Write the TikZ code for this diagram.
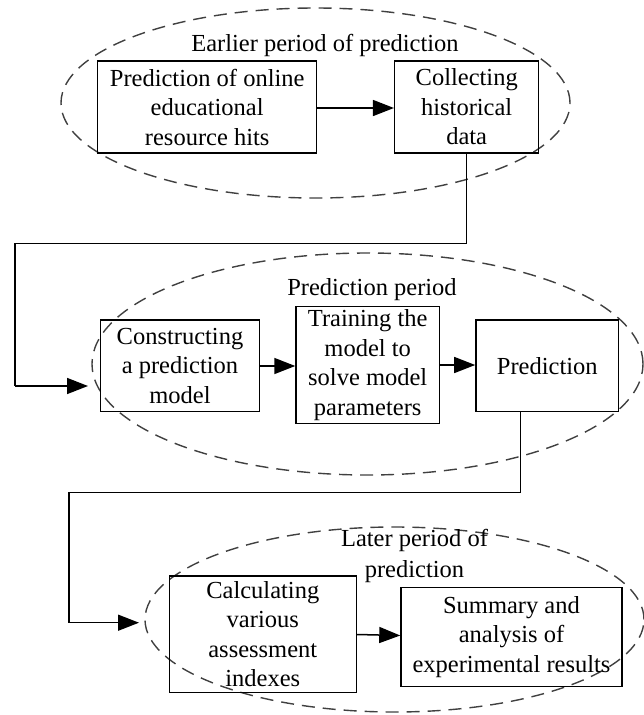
\documentclass[tikz,border=0pt]{standalone}
\usepackage{fontspec}
\setmainfont{Liberation Serif}
\usetikzlibrary{arrows.meta,shapes.geometric}
\begin{document}
\begin{tikzpicture}[x=1pt,y=-1pt,
  txt/.style={font=\fontsize{24.5}{29.5}\selectfont},
  box/.style={txt,draw,line width=1.5pt,rectangle,align=center,inner sep=0pt},
  zone/.style={ellipse,draw=black!75,line width=1.4pt,dash pattern=on 13pt off 8pt,inner sep=0pt},
  lbl/.style={txt,align=center,inner sep=0pt},
  conn/.style={line width=1.5pt,-{Triangle[length=21pt,width=16pt]}},
  wire/.style={line width=1.5pt}]
\useasboundingbox (0,0) rectangle (644,715);
% zones
\node[zone,minimum width=509pt,minimum height=190pt] (z1) at (315.5,103) {};
\node[zone,minimum width=551pt,minimum height=222pt] (z2) at (367.5,364) {};
\node[zone,minimum width=499pt,minimum height=185pt] (z3) at (394.5,619.5) {};
\node[lbl] (t1) at (325,45) {Earlier period of prediction};
\node[lbl] (t2) at (372,290) {Prediction period};
\node[lbl,font=\fontsize{24.5}{31.5}\selectfont] (t3) at (414.5,556) {Later period of\\prediction};
% boxes
\node[box,minimum width=219pt,minimum height=92pt] (b1) at (207.2,107) {Prediction of online\\educational\\resource hits};
\node[box,minimum width=144pt,minimum height=92pt] (b2) at (466.7,107) {Collecting\\historical\\data};
\node[box,minimum width=158.6pt,minimum height=91.7pt] (b3) at (180,365.8) {Constructing\\a prediction\\model};
\node[box,minimum width=143.3pt,minimum height=116.6pt] (b4) at (367.7,365) {Training the\\model to\\solve model\\parameters};
\node[box,minimum width=142.7pt,minimum height=91.7pt] (b5) at (547.3,365.8) {Prediction};
\node[box,minimum width=187pt,minimum height=116.7pt] (b6) at (262.8,634.3) {Calculating\\various\\assessment\\indexes};
\node[box,minimum width=221pt,minimum height=99.4pt] (b7) at (511.5,637) {Summary and\\analysis of\\experimental results};
% free ends
\coordinate (c1) at (466.3,243.3);
\coordinate (c2) at (15,243.3);
\coordinate (c3) at (15,386);
\coordinate (in2) at (88,386);
\coordinate (c4) at (520.3,492.3);
\coordinate (c5) at (69,492.3);
\coordinate (c6) at (69,622.7);
\coordinate (in3) at (139,622.7);
% connectors
\draw[conn] (b1.east |- 0,108) -- (b2.west |- 0,108);
\draw[wire] (b2.south -| c1) -- (c1) -- (c2) -- (c3);
\draw[conn] (c3) -- (in2);
\draw[conn] (b3.east |- 0,366) -- (b4.west |- 0,366);
\draw[conn] (b4.east |- 0,365) -- (b5.west |- 0,365);
\draw[wire] (b5.south -| c4) -- (c4) -- (c5) -- (c6);
\draw[conn] (c6) -- (in3);
\draw[conn] (b6.east |- 0,634.5) -- (b7.west |- 0,635.5);
\end{tikzpicture}
\end{document}
